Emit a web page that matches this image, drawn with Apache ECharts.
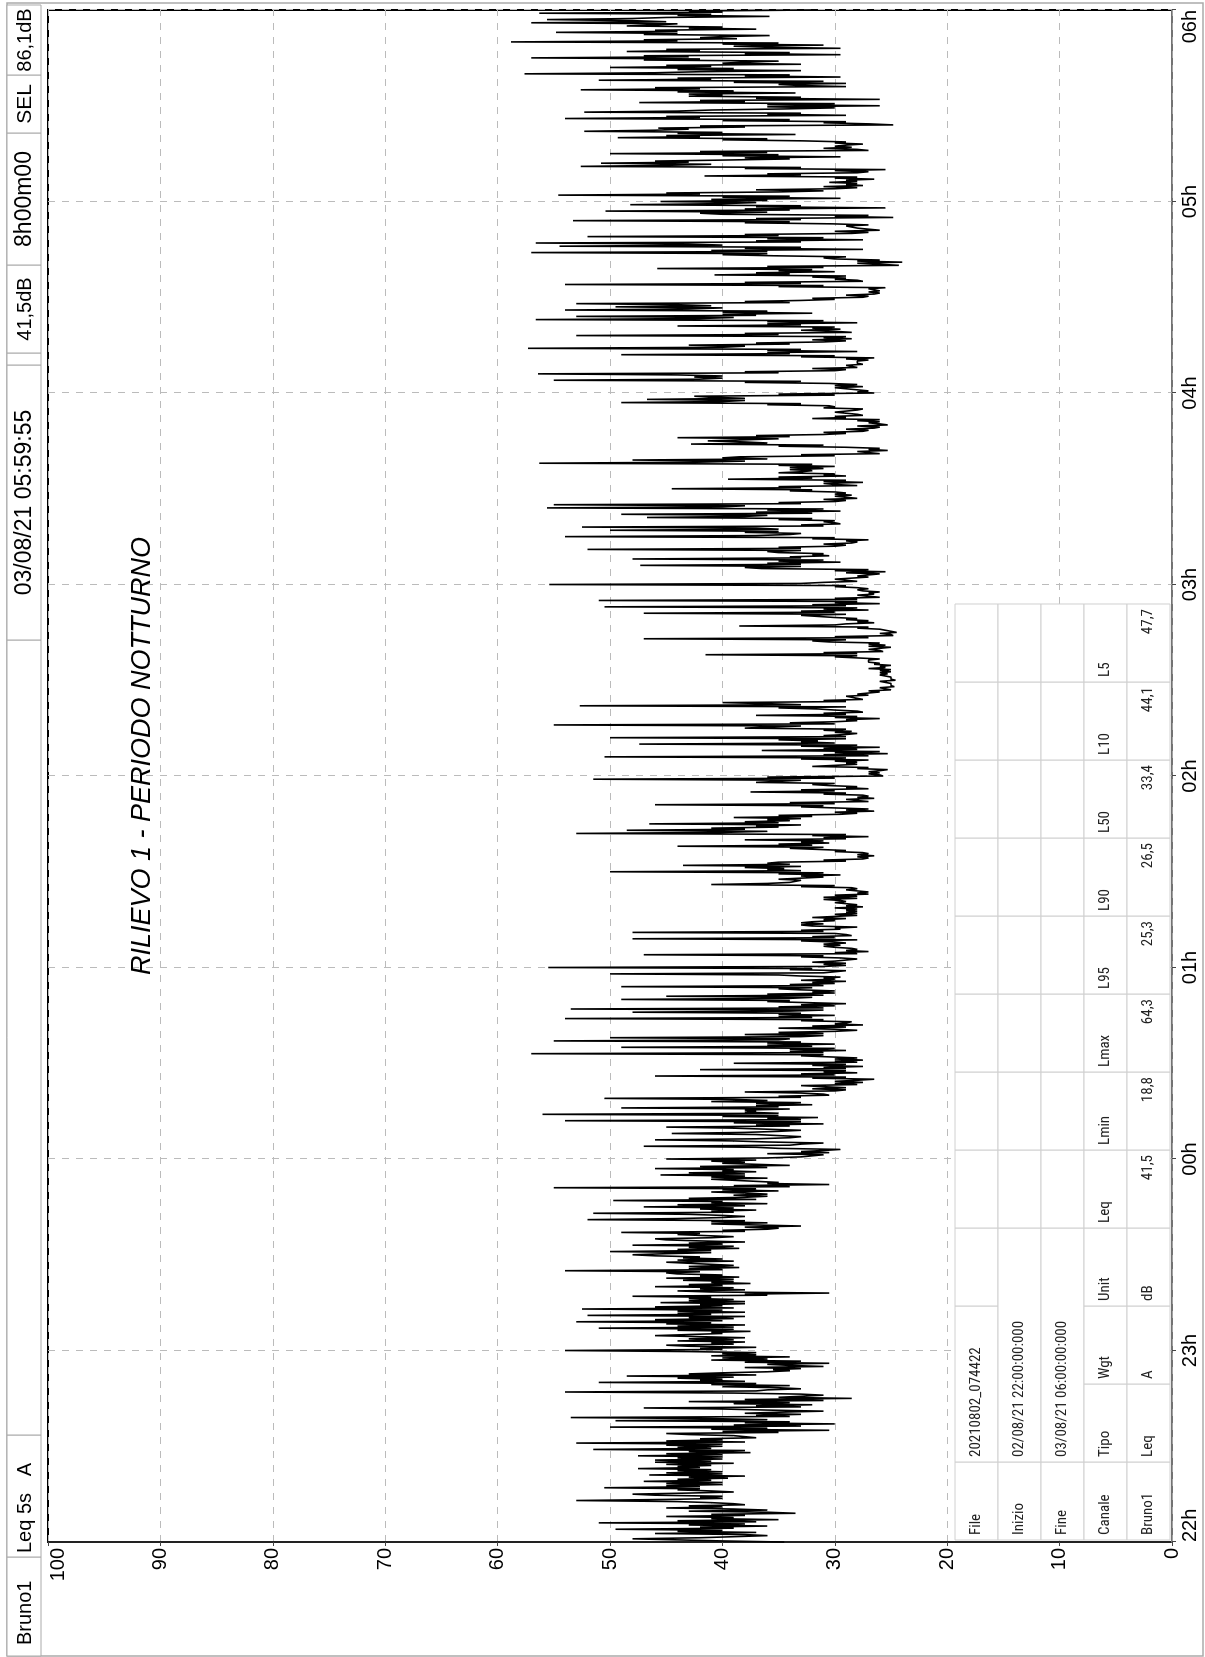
<!DOCTYPE html>
<html lang="it">
<head>
<meta charset="utf-8" />
<title>Rilievo 1 - periodo notturno</title>
<script src="https://cdn.jsdelivr.net/npm/echarts@6/dist/echarts.min.js"></script>
<style>
    html, body { margin: 0; padding: 0; width: 1205px; height: 1657px; overflow: hidden; background: #fff; }
    /* the chart is drawn landscape and turned a quarter to the left, like the printed sheet */
    #main { position: absolute; left: 0; top: 0; width: 1657px; height: 1205px;
            transform-origin: 0 0; transform: translate(0, 1657px) rotate(-90deg); }
</style>
</head>
<body>
<div id="main"></div>
<script type="text/javascript">
    // tick labels of the time axis (one every 60 minutes)
    var timeLabels = ['22h', '23h', '00h', '01h', '02h', '03h', '04h', '05h', '06h'];

    var leq22 = [34.5, 48, 36, 37, 49.5, 36, 51, 35, 45, 33.5,
                 36, 40, 39, 53, 42, 48, 41, 50.5, 40, 47,
                 39.5, 46.5, 40, 47.5, 41, 46, 40, 47.5, 37.5, 51.5,
                 40, 53, 40, 37, 45, 30.5, 50, 30, 49.5, 53.5,
                 33, 31, 47, 32, 43, 28.5, 31, 54, 33, 34,
                 51, 40, 48.5, 40, 35.5, 31, 30.5, 41, 34, 40];
    var leq23 = [54, 37, 39, 44, 38, 46, 37.5, 51, 38, 53,
                 39, 52, 38, 52.5, 40, 45.5, 39, 48, 30.5, 38,
                 46, 37.5, 43.5, 38.5, 44, 54, 38.5, 41, 39, 43.5,
                 48, 50, 38.5, 48, 38, 46, 39, 49, 36, 33,
                 36, 52, 38, 51.5, 37, 47, 36, 49.7, 38, 36,
                 35, 55, 30.5, 35, 36, 45.5, 37, 46, 34, 38];
    var leq00 = [45, 32, 30.5, 29.5, 47, 31, 46, 33, 44.5, 33,
                 45, 31, 54, 31.5, 56, 37, 49, 32, 41, 50.5,
                 30.5, 38, 32, 33, 27.5, 26.5, 46, 28, 42, 27.5,
                 39, 27.5, 28, 57, 29, 49, 30, 55, 50, 38,
                 30, 35, 27.5, 28.5, 54, 30, 48, 53.5, 30, 32.5,
                 49, 45, 30, 33, 49, 30, 33, 29.5, 50, 29];
    var leq01 = [55.5, 31, 30, 29.5, 47, 27, 28.5, 29.5, 30, 48,
                 28.5, 48, 29.5, 32, 33, 31, 30, 28, 29, 27.5,
                 28, 29.5, 31, 27, 27, 28.5, 41, 34, 35, 29.5,
                 50, 34.5, 43.5, 35, 27.5, 26.5, 27.5, 29, 44, 30.5,
                 38, 27, 53, 48.5, 35, 46.5, 34, 39, 29.5, 26.5,
                 30, 46, 27, 26.5, 27.5, 37.5, 27, 30.5, 37, 51.5];
    var leq02 = [25.7, 26, 25.3, 32, 29, 27, 50.5, 25.3, 36.5, 26,
                 47.4, 31.5, 50, 29, 28.5, 38, 55, 30, 26, 37,
                 27.5, 31.5, 52.7, 40, 27.5, 29, 27, 25, 24.7, 25,
                 24.6, 25, 25.3, 26, 25.5, 26.5, 27, 26, 41.5, 25.7,
                 26, 25.5, 30.5, 47, 24.8, 24.5, 26, 38.5, 26.5, 29,
                 30, 47, 27, 50.5, 26, 51, 26, 26.5, 27.5, 28];
    var leq03 = [55.4, 28, 28.5, 28, 25.5, 36.5, 47.3, 29.5, 48, 30.5,
                 35, 52, 30, 28.5, 27, 54, 33, 50, 52.5, 29.5,
                 30, 46.7, 49, 29.5, 55.6, 55, 30, 28, 28.5, 30,
                 44.5, 28, 27.5, 39.5, 29, 35, 34, 30, 56.3, 48,
                 38.5, 26, 25.3, 29, 42.8, 41.3, 44, 31, 27.5, 26.5,
                 25.3, 26, 32, 27.5, 30, 27.5, 30.5, 49, 46.7, 42.5];
    var leq04 = [26.5, 28, 27.5, 30.5, 55, 42.5, 56.4, 30, 28, 27.5,
                 28, 26.5, 49, 28, 57.3, 43, 31, 28.5, 53, 28.5,
                 29.5, 44, 28, 56.6, 53, 32, 54, 49.5, 53, 33,
                 27.5, 26.5, 26, 25.5, 54, 27.5, 29, 40.7, 30, 45.8,
                 24.3, 24, 30, 35.5, 57, 27.5, 54.5, 56.6, 27.5, 52,
                 28.5, 26, 28.5, 30.2, 53.3, 24.8, 40, 50.4, 25.5, 48.2];
    var leq05 = [45.5, 29.5, 54.6, 35, 30, 27.5, 30.5, 26.5, 41.6, 28,
                 25.5, 52.6, 50.8, 39.6, 29.5, 50, 27, 28.5, 27.5, 32.8,
                 49.3, 33.5, 52.3, 45.7, 24.8, 29, 54, 29, 52.3, 34.5,
                 26, 47.4, 26, 43, 33.5, 52.6, 29, 29, 51, 29.5,
                 57.6, 33, 50, 33, 35, 57, 29.5, 48.5, 29.5, 31,
                 58.8, 38.7, 35.8, 54.8, 37, 48.5, 57, 55.6, 35.8, 56.3];
    var leqEnd = 32;   // 06:00

    // ... and the level of the dense band twenty and forty seconds after it
    var bandA22 = [40, 42, 38, 44, 39, 43, 37, 41, 38, 36,
                   39, 43, 41, 45, 40, 43, 44, 42, 45, 41,
                   43, 40, 44, 42, 45, 41, 44, 40, 43, 41,
                   45, 38, 42, 39, 35, 41, 33, 38, 36, 34,
                   38, 36, 33, 39, 31, 35, 33, 37, 35, 41,
                   38, 44, 37, 36, 33, 34, 38, 36, 41, 37];
    var bandB22 = [44, 39, 46, 40, 42, 38, 44, 39, 41, 43,
                   45, 38, 44, 40, 46, 39, 42, 45, 40, 44,
                   38, 45, 41, 44, 39, 46, 40, 45, 38, 44,
                   40, 45, 37, 43, 40, 36, 39, 34, 41, 37,
                   35, 40, 37, 34, 38, 33, 39, 36, 40, 37,
                   42, 39, 43, 34, 38, 36, 33, 40, 37, 43];
    var bandA23 = [40, 43, 41, 39, 42, 40, 44, 39, 45, 40,
                   43, 41, 44, 39, 42, 38, 43, 36, 41, 42,
                   40, 41, 39, 42, 45, 40, 43, 41, 44, 42,
                   45, 41, 43, 40, 42, 41, 44, 38, 35, 37,
                   41, 44, 40, 39, 42, 38, 41, 37, 36, 38,
                   40, 34, 36, 39, 41, 38, 40, 36, 37, 41];
    var bandB23 = [42, 45, 38, 43, 46, 41, 39, 44, 41, 46,
                   38, 44, 40, 46, 38, 43, 41, 38, 44, 39,
                   43, 39, 45, 40, 42, 43, 39, 45, 40, 46,
                   41, 44, 39, 43, 45, 39, 42, 40, 38, 41,
                   38, 40, 43, 41, 39, 44, 40, 43, 39, 41,
                   37, 39, 35, 41, 38, 43, 39, 42, 40, 37];
    var bandA00 = [36, 31, 33, 35, 34, 36, 37, 35, 38, 36,
                   34, 39, 33, 40, 35, 38, 35, 37, 36, 33,
                   31, 30, 29, 28, 30, 32, 30, 31, 29, 32,
                   28, 30, 33, 31, 34, 32, 36, 35, 33, 31,
                   28, 29, 30, 33, 32, 35, 34, 31, 33, 36,
                   34, 31, 32, 35, 31, 32, 30, 33, 31, 34];
    var bandB00 = [33, 36, 31, 37, 33, 39, 34, 37, 35, 39,
                   37, 33, 36, 35, 38, 34, 37, 33, 39, 35,
                   33, 29, 31, 30, 28, 29, 33, 29, 31, 29,
                   30, 28, 31, 34, 30, 36, 33, 34, 31, 35,
                   30, 32, 29, 31, 35, 33, 31, 35, 29, 34,
                   32, 36, 30, 32, 34, 29, 31, 35, 30, 32];
    var bandA01 = [31, 29, 30, 33, 28, 29, 30, 31, 33, 30,
                   29, 31, 30, 33, 32, 29, 28, 29, 28, 29,
                   30, 31, 28, 28, 29, 33, 36, 33, 31, 35,
                   33, 38, 34, 29, 27, 28, 30, 34, 32, 33,
                   29, 32, 40, 38, 37, 35, 36, 32, 28, 29,
                   33, 30, 27, 28, 31, 30, 29, 32, 35, 30];
    var bandB01 = [29, 32, 28, 31, 30, 28, 31, 29, 28, 32,
                   30, 33, 28, 31, 30, 32, 30, 28, 30, 28,
                   29, 28, 30, 27, 28, 30, 34, 35, 33, 31,
                   36, 33, 36, 31, 28, 27, 29, 31, 35, 31,
                   31, 29, 36, 41, 33, 38, 33, 35, 30, 27,
                   31, 34, 29, 27, 29, 33, 28, 30, 33, 36];
    var bandA02 = [26, 27, 28, 30, 28, 33, 27, 30, 28, 33,
                   30, 35, 29, 28, 31, 36, 30, 28, 30, 29,
                   28, 35, 33, 29, 28, 27, 26, 25, 25, 25,
                   25, 25, 26, 25, 26, 26, 27, 30, 28, 26,
                   25, 27, 32, 27, 25, 25, 28, 30, 28, 28,
                   33, 30, 31, 29, 30, 28, 27, 27, 28, 30];
    var bandB02 = [27, 26, 27, 28, 30, 29, 31, 26, 31, 28,
                   33, 29, 31, 30, 29, 33, 34, 29, 28, 31,
                   30, 29, 36, 31, 28, 28, 27, 26, 25, 26,
                   25, 26, 25, 27, 25, 27, 26, 28, 31, 27,
                   27, 26, 29, 30, 26, 25, 27, 29, 27, 30,
                   29, 33, 28, 32, 28, 30, 28, 26, 27, 29];
    var bandA03 = [33, 29, 27, 26, 30, 38, 33, 35, 33, 32,
                   36, 33, 29, 28, 32, 37, 38, 35, 31, 30,
                   35, 38, 32, 36, 40, 33, 29, 28, 30, 34,
                   33, 30, 31, 32, 31, 33, 31, 35, 42, 36,
                   30, 26, 27, 35, 36, 38, 34, 29, 27, 26,
                   26, 28, 29, 28, 29, 31, 36, 40, 38, 30];
    var bandB03 = [31, 30, 28, 29, 27, 33, 36, 31, 34, 31,
                   33, 35, 31, 29, 30, 34, 35, 37, 33, 31,
                   32, 36, 37, 31, 38, 35, 31, 30, 29, 32,
                   35, 31, 29, 35, 30, 32, 34, 32, 38, 40,
                   33, 28, 26, 31, 38, 35, 37, 31, 29, 28,
                   27, 26, 30, 29, 28, 30, 33, 38, 41, 35];
    var bandA04 = [28, 29, 30, 38, 42, 40, 35, 29, 28, 28,
                   27, 33, 34, 36, 40, 34, 29, 31, 35, 30,
                   32, 33, 36, 42, 37, 40, 43, 41, 34, 30,
                   27, 26, 26, 35, 33, 28, 32, 34, 35, 31,
                   26, 28, 31, 40, 36, 38, 40, 33, 36, 35,
                   27, 27, 29, 38, 33, 30, 42, 34, 37, 40];
    var bandB04 = [27, 30, 28, 33, 40, 44, 38, 32, 29, 28,
                   29, 30, 36, 33, 38, 37, 32, 29, 38, 33,
                   30, 36, 31, 39, 40, 36, 40, 44, 38, 32,
                   29, 27, 27, 31, 38, 30, 29, 37, 32, 36,
                   28, 26, 29, 36, 41, 33, 43, 37, 31, 38,
                   30, 28, 27, 34, 37, 27, 36, 38, 33, 37];
    var bandA05 = [36, 40, 42, 31, 28, 29, 28, 30, 33, 27,
                   38, 45, 43, 34, 40, 36, 28, 30, 30, 40,
                   42, 44, 46, 38, 27, 40, 42, 36, 44, 30,
                   36, 38, 37, 40, 44, 42, 33, 39, 41, 38,
                   46, 44, 41, 40, 47, 43, 38, 42, 36, 40,
                   44, 42, 47, 44, 43, 46, 45, 48, 44, 40];
    var bandB05 = [41, 34, 45, 37, 31, 28, 29, 28, 36, 30,
                   33, 41, 46, 38, 35, 42, 31, 29, 29, 36,
                   45, 40, 43, 42, 31, 34, 45, 33, 41, 36,
                   30, 42, 33, 43, 39, 46, 35, 31, 44, 34,
                   42, 39, 45, 38, 42, 47, 34, 45, 39, 35,
                   47, 40, 44, 46, 40, 44, 48, 45, 41, 43];

    // summary table laid over the lower corner of the plot
    var tableInfo = [['File', '20210802_074422'],
                     ['Inizio', '02/08/21 22:00:00:000'],
                     ['Fine', '03/08/21 06:00:00:000']];
    var tableHeads = ['Canale', 'Tipo', 'Wgt', 'Unit', 'Leq', 'Lmin', 'Lmax', 'L95', 'L90', 'L50', 'L10', 'L5'];
    var tableValues = ['Bruno1', 'Leq', 'A', 'dB', '41,5', '18,8', '64,3', '25,3', '26,5', '33,4', '44,1', '47,7'];

    // header strip, left to right
    var headerTexts = ['Bruno1', 'Leq 5s   A', '', '03/08/21 05:59:55', '', '41,5dB', '8h00m00', 'SEL', '86,1dB'];

    var title = 'RILIEVO 1 - PERIODO NOTTURNO';

    // ---------------------------------------------------------------
    var W = 1657, H = 1205;
    var G = { left: 115, right: 10, top: 48, bottom: 33 };
    var FONT = '"Liberation Sans", Arial, Helvetica, sans-serif';
    var NARROW = '"Liberation Sans Narrow", "Arial Narrow", "Roboto Condensed", "Liberation Sans", sans-serif';

    var minutes = [leq22, leq23, leq00, leq01, leq02, leq03, leq04, leq05];
    var bandA = [bandA22, bandA23, bandA00, bandA01, bandA02, bandA03, bandA04, bandA05];
    var bandB = [bandB22, bandB23, bandB00, bandB01, bandB02, bandB03, bandB04, bandB05];
    var series = [];
    for (var h = 0; h < minutes.length; h++) {
        for (var i = 0; i < minutes[h].length; i++) {
            var m = h * 60 + i;
            series.push([m, minutes[h][i]]);
            series.push([m + 1 / 3, bandA[h][i]]);
            series.push([m + 2 / 3, bandB[h][i]]);
        }
    }
    series.push([480, leqEnd]);

    var graphics = [];

    // outer frame
    graphics.push({ type: 'rect', z: 1, silent: true,
        shape: { x: 1, y: 7, width: 1653, height: 1196 },
        style: { fill: null, stroke: '#aaa', lineWidth: 1.5 } });

    // header boxes
    var headEdges = [1, 100, 222, 1017, 1292, 1304, 1392, 1524, 1582, 1652];
    var headSize = [20, 20, 20, 23, 20, 20, 23, 21, 20];
    for (var k = 0; k < headerTexts.length; k++) {
        var x0 = headEdges[k], x1 = headEdges[k + 1];
        graphics.push({ type: 'rect', z: 5, silent: true,
            shape: { x: x0, y: 7, width: x1 - x0, height: 34 },
            style: { fill: '#fff', stroke: '#aaa', lineWidth: 1 } });
        if (!headerTexts[k]) continue;
        var leftAl = k < 2;
        graphics.push({ type: 'text', z: 6, silent: true,
            x: leftAl ? x0 + (k === 0 ? 11 : 4) : (x0 + x1) / 2, y: 25,
            style: { text: headerTexts[k], font: headSize[k] + 'px ' + FONT, fill: '#000',
                     align: leftAl ? 'left' : 'center', verticalAlign: 'middle' } });
    }

    // title
    graphics.push({ type: 'text', z: 6, silent: true, x: 901, y: 142,
        style: { text: title, font: 'italic 27px ' + FONT, fill: '#000',
                 align: 'center', verticalAlign: 'middle' } });

    // table
    var tx0 = G.left + 2, ty1 = H - G.bottom - 2;
    var colW = 78, rowH = 43;
    var ty0 = ty1 - rowH * 5;
    var nCol = tableHeads.length;
    function cell(c0, c1, r, txt, right) {
        var x = tx0 + c0 * colW, w = (c1 - c0) * colW, y = ty0 + r * rowH;
        graphics.push({ type: 'rect', z: 10, silent: true,
            shape: { x: x, y: y, width: w, height: rowH },
            style: { fill: '#fff', stroke: '#d0d0d0', lineWidth: 1 } });
        if (txt) {
            graphics.push({ type: 'text', z: 11, silent: true,
                x: right ? x + w - 5 : x + 5, y: y + rowH / 2,
                style: { text: txt, font: '15px ' + NARROW, fill: '#222',
                         align: right ? 'right' : 'left', verticalAlign: 'middle' } });
        }
    }
    for (var r = 0; r < tableInfo.length; r++) {
        cell(0, 1, r, tableInfo[r][0]);
        cell(1, r === 0 ? 3 : 4, r, tableInfo[r][1]);
        for (var c = (r === 0 ? 3 : 4); c < nCol; c++) cell(c, c + 1, r, '');
    }
    for (var c2 = 0; c2 < nCol; c2++) {
        cell(c2, c2 + 1, 3, tableHeads[c2]);
        cell(c2, c2 + 1, 4, tableValues[c2], c2 >= 4);
    }

    var chart = echarts.init(document.getElementById('main'), null, { renderer: 'canvas' });
    chart.setOption({
        animation: false,
        backgroundColor: '#fff',
        grid: { left: G.left, right: G.right, top: G.top, bottom: G.bottom,
                show: true, borderColor: '#000', borderWidth: 2 },
        xAxis: {
            type: 'value', min: 0, max: 480, interval: 60,
            axisLine: { show: true, lineStyle: { color: '#999', width: 1.5 } },
            axisTick: { show: true, length: 4, lineStyle: { color: '#444' } },
            axisLabel: { fontSize: 20, fontFamily: FONT, color: '#000', margin: 8,
                         alignMinLabel: 'left', alignMaxLabel: 'right',
                         formatter: function (v) { return timeLabels[Math.round(v / 60)]; } },
            splitLine: { show: true, lineStyle: { color: '#bbb', type: [7, 7], width: 1 } }
        },
        yAxis: {
            type: 'value', min: 0, max: 100, interval: 10,
            axisLine: { show: true, lineStyle: { color: '#222', width: 2 } },
            axisTick: { show: true, length: 4, lineStyle: { color: '#444' } },
            axisLabel: { fontSize: 20, fontFamily: FONT, color: '#000', margin: 6,
                         verticalAlignMaxLabel: 'top' },
            splitLine: { show: true, lineStyle: { color: '#bbb', type: [7, 7], width: 1 } }
        },
        graphic: graphics,
        series: [{
            name: 'Leq 5s',
            type: 'line',
            data: series,
            showSymbol: false,
            clip: true,
            z: 3,
            lineStyle: { color: '#000', width: 1.6 }
        }]
    });
</script>
</body>
</html>
